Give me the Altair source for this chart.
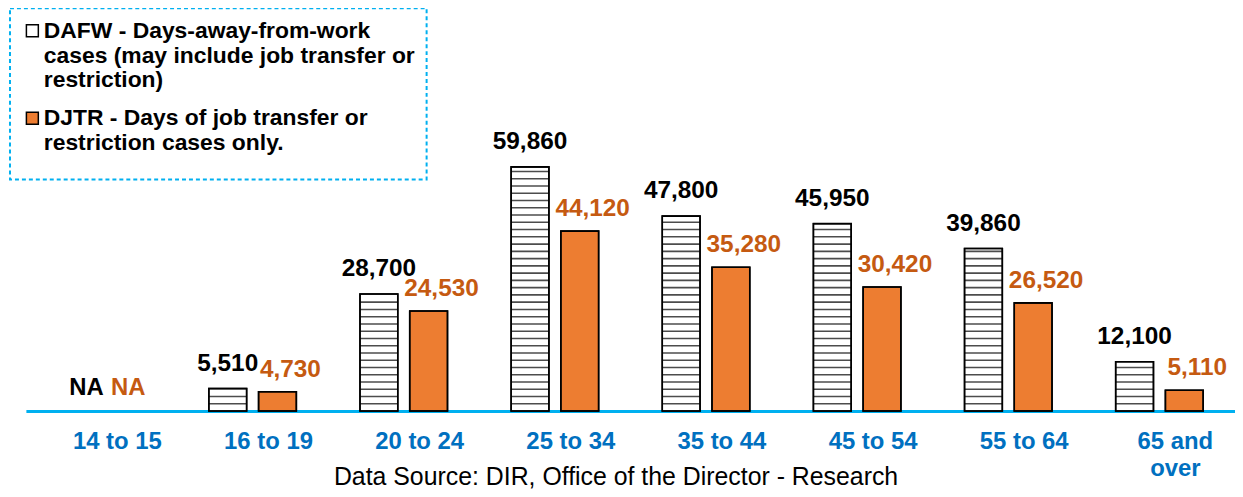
import altair as alt
import pandas as pd

categories = ["14 to 15", "16 to 19", "20 to 24", "25 to 34", "35 to 44",
              "45 to 54", "55 to 64", "65 and over"]
dafw = [None, 5510, 28700, 59860, 47800, 45950, 39860, 12100]
djtr = [None, 4730, 24530, 44120, 35280, 30420, 26520, 5110]
series = ["DAFW - Days-away-from-work|cases (may include job transfer or|restriction)",
          "DJTR - Days of job transfer or|restriction cases only."]
source_text = "Data Source: DIR, Office of the Director - Research"

FONT = "Liberation Sans"
ORANGE = "#ED7D31"
ORANGE_TXT = "#C55A11"
BLUE_LINE = "#00B0F0"
BLUE_TXT = "#0070C0"
YMAX = 98000
STRIPE_STEP = 1780

rows = []
for c, a, b in zip(categories, dafw, djtr):
    rows.append({"cat": c, "series": series[0], "value": a, "zero": 0})
    rows.append({"cat": c, "series": series[1], "value": b, "zero": 0})
df = pd.DataFrame(rows)

stripe_rows = []
for c, a in zip(categories, dafw):
    if a is None:
        continue
    k = 1
    while k * STRIPE_STEP < a - 400:
        stripe_rows.append({"cat": c, "series": series[0], "value": k * STRIPE_STEP})
        k += 1
stripes_df = pd.DataFrame(stripe_rows)

x_enc = alt.X(
    "cat:N", sort=categories,
    scale=alt.Scale(paddingInner=0.421, paddingOuter=0.2105),
    axis=alt.Axis(
        title=source_text, titleFont=FONT, titleFontSize=25, titleFontWeight="normal",
        titleColor="black", titleX=593, titleY=66, titleBaseline="middle",
        titleAnchor="start", titleAlign="center",
        labelFont=FONT, labelFontSize=24, labelFontWeight="bold", labelColor=BLUE_TXT,
        labelAngle=0, labelPadding=19, labelOffset=16, labelLineHeight=27,
        labelExpr="datum.value == '65 and over' ? ['65 and', 'over'] : datum.value",
        ticks=False, domainColor=BLUE_LINE, domainWidth=3, grid=False,
    ),
)
xoff = alt.XOffset("series:N", sort=series, scale=alt.Scale(paddingInner=0.24, paddingOuter=0))
y_enc = alt.Y("value:Q", scale=alt.Scale(domain=[0, YMAX], nice=False, zero=True), axis=None)

base = alt.Chart(df)

bars = base.mark_bar(stroke="black", strokeWidth=1.5).encode(
    x=x_enc, xOffset=xoff, y=y_enc,
    fill=alt.Fill(
        "series:N", sort=series,
        scale=alt.Scale(domain=series, range=["white", ORANGE]),
        legend=alt.Legend(
            title=" ", titleOrient="bottom", titleFontSize=12, titlePadding=2,
            orient="none", legendX=-16, legendY=-3, direction="vertical",
            fillColor="white",
            padding=11, labelFont=FONT, labelFontSize=23, labelFontWeight="bold",
            labelColor="black", labelLimit=0, labelExpr="split(datum.label, '|')",
            symbolType="square", symbolSize=144, symbolStrokeColor="black",
            symbolStrokeWidth=1.5, rowPadding=14, labelOffset=0,
        ),
    ),
)

stripes = alt.Chart(stripes_df).mark_tick(
    orient="horizontal", color="black", thickness=1.6, size=38
).encode(x=alt.X("cat:N", sort=categories), xOffset=alt.XOffset("series:N", sort=series), y="value:Q")

outline = base.mark_bar(fillOpacity=0, stroke="black", strokeWidth=1.6).encode(
    x=alt.X("cat:N", sort=categories), xOffset=alt.XOffset("series:N", sort=series), y="value:Q"
)

text_color = alt.Color("series:N", sort=series,
                       scale=alt.Scale(domain=series, range=["black", ORANGE_TXT]), legend=None)

lab_a = base.transform_filter(
    f"datum.series == '{series[0]}' && datum.value != null"
).mark_text(font=FONT, fontSize=24.5, fontWeight="bold", baseline="middle", dy=-25).encode(
    x=alt.X("cat:N", sort=categories), xOffset=alt.XOffset("series:N", sort=series),
    y="value:Q", text=alt.Text("value:Q", format=","), color=text_color,
)
lab_b = base.transform_filter(
    f"datum.series == '{series[1]}' && datum.value != null"
).mark_text(font=FONT, fontSize=24.5, fontWeight="bold", baseline="middle", dy=-22, dx=13).encode(
    x=alt.X("cat:N", sort=categories), xOffset=alt.XOffset("series:N", sort=series),
    y="value:Q", text=alt.Text("value:Q", format=","), color=text_color,
)
na_a = base.transform_filter(
    f"datum.series == '{series[0]}' && datum.value == null"
).transform_calculate(t="'NA'").mark_text(
    font=FONT, fontSize=24, fontWeight="bold", baseline="middle", dy=-23, dx=10
).encode(
    x=alt.X("cat:N", sort=categories), xOffset=alt.XOffset("series:N", sort=series),
    y="zero:Q", text="t:N", color=text_color,
)
na_b = base.transform_filter(
    f"datum.series == '{series[1]}' && datum.value == null"
).transform_calculate(t="'NA'").mark_text(
    font=FONT, fontSize=24, fontWeight="bold", baseline="middle", dy=-23, dx=2
).encode(
    x=alt.X("cat:N", sort=categories), xOffset=alt.XOffset("series:N", sort=series),
    y="zero:Q", text="t:N", color=text_color,
)

chart = alt.layer(bars, stripes, outline, lab_a, lab_b, na_a, na_b).properties(
    width=1216, height=402,
    autosize=alt.AutoSizeParams(type="none"),
    padding={"left": 18, "top": 2, "right": 0, "bottom": 77},
).configure_view(stroke=None).configure_legend(
    strokeColor=BLUE_LINE, strokeDash=[4, 3], strokeWidth=2,
).resolve_scale(color="independent")

chart.save("out.html", embed_options={"renderer": "svg", "actions": False})
